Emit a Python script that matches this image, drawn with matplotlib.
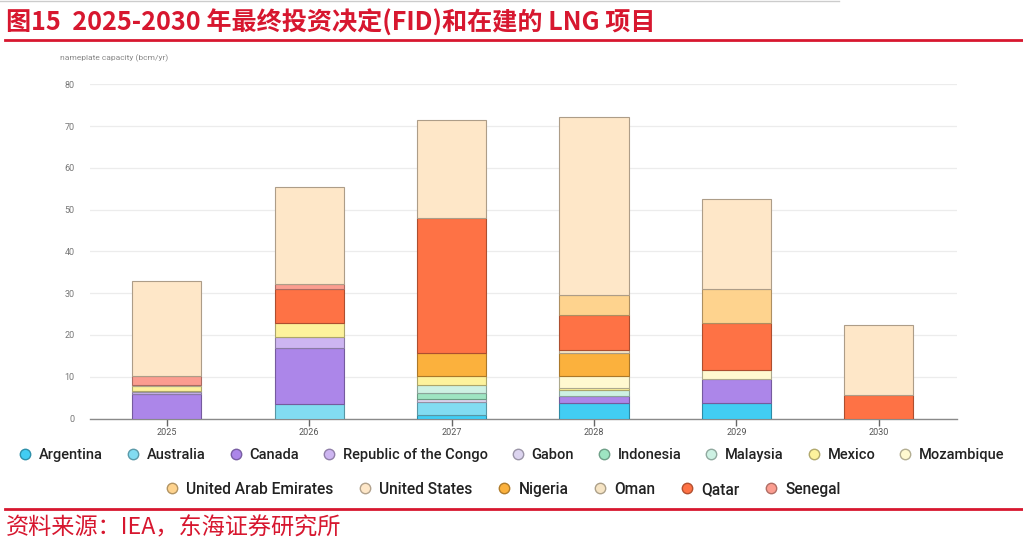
import numpy as np
import matplotlib
matplotlib.use('Agg')
import matplotlib.pyplot as plt
import matplotlib.colors as mcolors
from matplotlib.lines import Line2D

plt.rcParams['font.family'] = ['Noto Sans CJK SC', 'DejaVu Sans']

############ data (bcm/yr)
years = ['2025', '2026', '2027', '2028', '2029', '2030']

argentina  = [0.0, 0.0, 0.8, 3.6, 3.8, 0.0]
australia  = [0.0, 3.5, 3.2, 0.0, 0.0, 0.0]
canada     = [5.8, 13.3, 0.0, 1.8, 5.6, 0.0]
congo      = [0.5, 2.7, 0.0, 0.0, 0.0, 0.0]
gabon      = [0.3, 0.0, 0.6, 0.0, 0.0, 0.0]
indonesia  = [0.0, 0.0, 1.6, 0.0, 0.0, 0.0]
malaysia   = [0.0, 0.0, 1.8, 1.4, 0.0, 0.0]
mexico     = [1.1, 3.4, 2.2, 0.5, 0.0, 0.0]
mozambique = [0.3, 0.0, 0.0, 2.9, 2.2, 0.0]
nigeria    = [0.0, 0.0, 5.4, 5.4, 0.0, 0.0]
oman       = [0.0, 0.0, 0.0, 0.8, 0.0, 0.0]
qatar      = [0.0, 8.2, 32.5, 8.3, 11.3, 5.6]
senegal    = [2.2, 1.0, 0.0, 0.0, 0.0, 0.0]
uae        = [0.0, 0.0, 0.0, 4.8, 8.1, 0.0]
usa        = [22.8, 23.3, 23.3, 42.6, 21.5, 16.7]

# stacking order (bottom -> top)
stack = [
    ('Argentina', argentina, '#42cdf3'),
    ('Australia', australia, '#82dcf1'),
    ('Canada', canada, '#ac86e9'),
    ('Republic of the Congo', congo, '#cdb5f1'),
    ('Gabon', gabon, '#dcd4ef'),
    ('Indonesia', indonesia, '#9ee5c2'),
    ('Malaysia', malaysia, '#cdf1e3'),
    ('Mexico', mexico, '#fdf29c'),
    ('Mozambique', mozambique, '#fff9d0'),
    ('Nigeria', nigeria, '#fbb13d'),
    ('Oman', oman, '#f6e4c4'),
    ('Qatar', qatar, '#fe7245'),
    ('Senegal', senegal, '#fb9d90'),
    ('United Arab Emirates', uae, '#fed38e'),
    ('United States', usa, '#fee7c8'),
]
legend_order = ['Argentina', 'Australia', 'Canada', 'Republic of the Congo', 'Gabon',
                'Indonesia', 'Malaysia', 'Mexico', 'Mozambique',
                'United Arab Emirates', 'United States', 'Nigeria', 'Oman', 'Qatar', 'Senegal']

def darker(c, f=0.62):
    r, g, b = mcolors.to_rgb(c)
    return (r * f, g * f, b * f)

fig = plt.figure(figsize=(10.23, 5.46), dpi=100)
ax = fig.add_axes([0.088, 0.2335, 0.8475, 0.612])

x = np.arange(len(years))
bottom = np.zeros(len(years))
colors = {}
for name, vals, col in stack:
    vals = np.array(vals)
    colors[name] = col
    m = vals > 0
    ax.bar(x[m], vals[m], bottom=bottom[m], width=0.485, color=col,
           edgecolor=darker(col, 0.68), linewidth=0.8, zorder=3)
    bottom += vals

ax.set_xlim(-0.54, 5.55)
ax.set_ylim(0, 80)
ax.set_yticks(range(0, 81, 10))
ax.set_xticks(x)
ax.set_xticklabels(years)
ax.grid(axis='y', color='#ececec', linewidth=0.9, zorder=0)
for s in ['top', 'right', 'left']:
    ax.spines[s].set_visible(False)
ax.spines['bottom'].set_color('#8a8a8a')
ax.spines['bottom'].set_linewidth(1.0)
ax.tick_params(axis='y', length=0, pad=11, labelsize=6.5, labelcolor='#777777')
ax.tick_params(axis='x', length=5, width=1, color='#666666', pad=2,
               labelsize=6.5, labelcolor='#555555')
for lab in ax.get_xticklabels() + ax.get_yticklabels():
    lab.set_family(['Roboto', 'DejaVu Sans'])

fig.text(0.059, 0.889, 'nameplate capacity (bcm/yr)', fontsize=6, color='#888888',
         family=['Roboto', 'DejaVu Sans'])

############ title, lines, source
red = '#d7172f'
fig.text(0.006, 0.958, '图15  2025-2030 年最终投资决定(FID)和在建的 LNG 项目',
         fontsize=18.1, fontweight='bold', color=red, va='center')
fig.add_artist(Line2D([0.005, 1.0], [0.926, 0.926], color=red, linewidth=2))
fig.add_artist(Line2D([0.0, 0.82], [0.998, 0.998], color='#cccccc', linewidth=1))
fig.add_artist(Line2D([0.005, 1.0], [0.068, 0.068], color=red, linewidth=2))
fig.text(0.006, 0.033, '资料来源：IEA，东海证券研究所', fontsize=16.7, color=red, va='center')

############ legend
def handle(name):
    c = colors[name]
    return Line2D([], [], marker='o', linestyle='', markersize=7.5,
                  markerfacecolor=c, markeredgecolor=darker(c, 0.7), markeredgewidth=1)

row1 = legend_order[:9]
row2 = legend_order[9:]
lp = dict(frameon=False, handletextpad=0.45, handlelength=1.0,
          labelcolor='#222222', borderaxespad=0)
leg1 = fig.legend([handle(n) for n in row1], row1, loc='center', ncol=9,
                  bbox_to_anchor=(0.5, 0.166), columnspacing=1.55,
                  prop={'family': ['Roboto', 'DejaVu Sans'], 'size': 10.5, 'weight': 'medium'},
                  **lp)
leg2 = fig.legend([handle(n) for n in row2], row2, loc='center', ncol=6,
                  bbox_to_anchor=(0.491, 0.104), columnspacing=1.5,
                  prop={'family': ['Roboto', 'DejaVu Sans'], 'size': 11.2, 'weight': 'medium'},
                  **lp)

plt.savefig('out.png', dpi=100)
